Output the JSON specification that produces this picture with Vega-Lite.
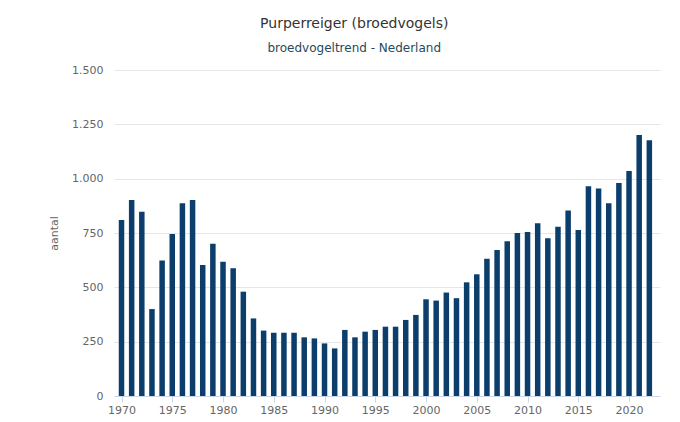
{
  "$schema": "https://vega.github.io/schema/vega-lite/v6.json",
  "width": 546,
  "height": 326,
  "autosize": {"type": "none"},
  "padding": {"left": 114, "top": 70, "right": 20, "bottom": 26},
  "background": "white",
  "title": {
    "text": "Purperreiger (broedvogels)",
    "subtitle": "broedvogeltrend - Nederland",
    "anchor": "middle",
    "frame": "bounds",
    "font": "DejaVu Sans",
    "fontSize": 14,
    "fontWeight": "normal",
    "color": "#333333",
    "subtitleFont": "DejaVu Sans",
    "subtitleFontSize": 12,
    "subtitleColor": "#244a5c",
    "subtitlePadding": 12,
    "offset": 10
  },
  "data": {
    "values": [
      {"jaar": 1970, "aantal": 810},
      {"jaar": 1971, "aantal": 902},
      {"jaar": 1972, "aantal": 848},
      {"jaar": 1973, "aantal": 400},
      {"jaar": 1974, "aantal": 623},
      {"jaar": 1975, "aantal": 745},
      {"jaar": 1976, "aantal": 887},
      {"jaar": 1977, "aantal": 902},
      {"jaar": 1978, "aantal": 603},
      {"jaar": 1979, "aantal": 700},
      {"jaar": 1980, "aantal": 618},
      {"jaar": 1981, "aantal": 588},
      {"jaar": 1982, "aantal": 480},
      {"jaar": 1983, "aantal": 357},
      {"jaar": 1984, "aantal": 301},
      {"jaar": 1985, "aantal": 291},
      {"jaar": 1986, "aantal": 291},
      {"jaar": 1987, "aantal": 291},
      {"jaar": 1988, "aantal": 270},
      {"jaar": 1989, "aantal": 265},
      {"jaar": 1990, "aantal": 242},
      {"jaar": 1991, "aantal": 219},
      {"jaar": 1992, "aantal": 304},
      {"jaar": 1993, "aantal": 270},
      {"jaar": 1994, "aantal": 296},
      {"jaar": 1995, "aantal": 304},
      {"jaar": 1996, "aantal": 319},
      {"jaar": 1997, "aantal": 319},
      {"jaar": 1998, "aantal": 350},
      {"jaar": 1999, "aantal": 373},
      {"jaar": 2000, "aantal": 445},
      {"jaar": 2001, "aantal": 439},
      {"jaar": 2002, "aantal": 476},
      {"jaar": 2003, "aantal": 450},
      {"jaar": 2004, "aantal": 523},
      {"jaar": 2005, "aantal": 560},
      {"jaar": 2006, "aantal": 632},
      {"jaar": 2007, "aantal": 672},
      {"jaar": 2008, "aantal": 712},
      {"jaar": 2009, "aantal": 750},
      {"jaar": 2010, "aantal": 755},
      {"jaar": 2011, "aantal": 795},
      {"jaar": 2012, "aantal": 726},
      {"jaar": 2013, "aantal": 779},
      {"jaar": 2014, "aantal": 853},
      {"jaar": 2015, "aantal": 764},
      {"jaar": 2016, "aantal": 965},
      {"jaar": 2017, "aantal": 955},
      {"jaar": 2018, "aantal": 887},
      {"jaar": 2019, "aantal": 980},
      {"jaar": 2020, "aantal": 1035},
      {"jaar": 2021, "aantal": 1201},
      {"jaar": 2022, "aantal": 1177}
    ]
  },
  "mark": {"type": "bar", "size": 5.5, "color": "#0c3e6c"},
  "encoding": {
    "x": {
      "field": "jaar",
      "type": "quantitative",
      "scale": {"domain": [1969.26, 2023.05], "nice": false, "zero": false, "padding": 0},
      "axis": {
        "title": null,
        "values": [1970, 1975, 1980, 1985, 1990, 1995, 2000, 2005, 2010, 2015, 2020],
        "format": "d",
        "grid": false,
        "domainColor": "#ccd6eb",
        "tickColor": "#ccd6eb",
        "tickSize": 6,
        "labelPadding": 2,
        "labelFont": "DejaVu Sans",
        "labelFontSize": 11,
        "labelColor": "#666666"
      }
    },
    "y": {
      "field": "aantal",
      "type": "quantitative",
      "scale": {"domain": [0, 1500], "nice": false, "padding": 0},
      "axis": {
        "title": "aantal",
        "titleFont": "DejaVu Sans",
        "titleFontSize": 11,
        "titleFontWeight": "normal",
        "titleColor": "#666666",
        "titlePadding": 12,
        "values": [0, 250, 500, 750, 1000, 1250, 1500],
        "labelExpr": "replace(format(datum.value, ','), ',', '.')",
        "labelFont": "DejaVu Sans",
        "labelFontSize": 11,
        "labelColor": "#666666",
        "labelPadding": 11,
        "domain": false,
        "ticks": false,
        "gridColor": "#e6e6e6"
      }
    }
  },
  "config": {"view": {"stroke": null}}
}
